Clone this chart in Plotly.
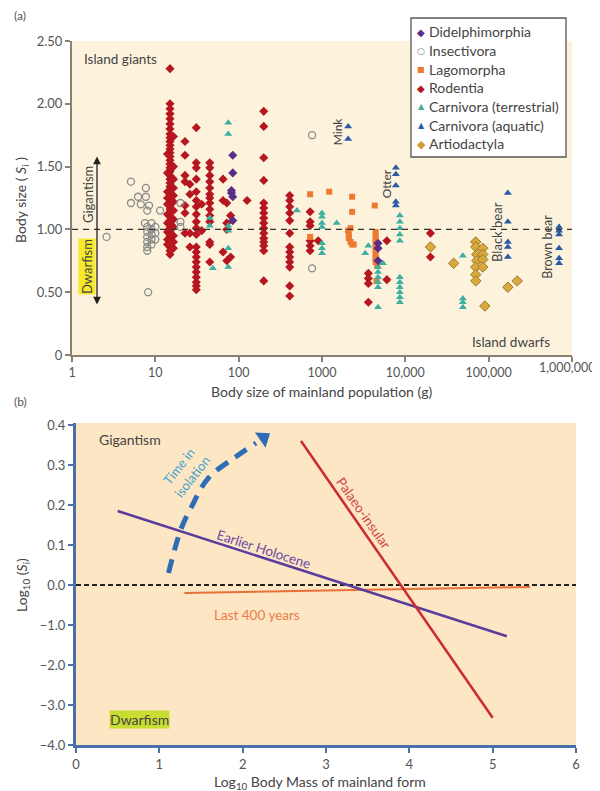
import plotly.graph_objects as go

# ---------------- Panel (a) data: (mainland mass g, S_i) ----------------
didelphimorphia_x = [85, 85, 82, 85, 82, 85, 4700, 4700, 4700]
didelphimorphia_y = [1.59, 1.45, 1.31, 1.26, 1.29, 1.07, 0.89, 0.85, 0.75]

insectivora_x = [2.6, 5.1, 5.1, 6.2, 6.7, 7.7, 7.7, 8.4, 8.0, 11.4, 7.5, 8.0, 8.0, 8.0, 8.0, 8.0, 8.0,
                 9.0, 9.0, 9.0, 9.0, 9.0, 10.0, 10.0, 10.0, 8.2, 20, 20, 20, 760, 760]
insectivora_y = [0.94, 1.38, 1.21, 1.26, 1.20, 1.33, 1.26, 1.19, 1.15, 1.15, 1.05, 1.02, 0.98, 0.94, 0.90, 0.86, 0.83,
                 1.05, 1.00, 0.96, 0.92, 0.88, 1.02, 0.97, 0.92, 0.50, 1.21, 1.06, 1.02, 1.75, 0.69]

lagomorpha_x = [720, 1220, 2300, 2300, 4300, 2050, 2100, 2100, 2200, 2300, 2400, 2200,
                4400, 4400, 4400, 4400, 4400, 4400, 4400, 4400, 4400, 4600, 4500, 720]
lagomorpha_y = [1.28, 1.30, 1.26, 1.14, 1.19, 0.99, 0.96, 0.93, 0.90, 0.88, 0.88, 1.01,
                0.98, 0.95, 0.92, 0.89, 0.86, 0.83, 0.80, 0.77, 0.74, 0.71, 0.59, 0.94]

rodentia_cols = [
    (15, [2.28, 2.00, 1.96, 1.92, 1.88, 1.84, 1.80, 1.76, 1.73, 1.70, 1.67, 1.64, 1.61, 1.58, 1.55,
          1.52, 1.49, 1.46, 1.43, 1.40, 1.37, 1.34, 1.31, 1.28, 1.25, 1.22, 1.19, 1.16, 1.13, 1.10,
          1.07, 1.04, 1.01, 0.98, 0.95, 0.92, 0.89, 0.86, 0.83, 0.80]),
    (14, [1.60, 1.45, 1.30, 1.25, 1.20, 1.12, 1.05, 0.98, 0.92, 0.88]),
    (16.5, [1.74, 1.50, 1.40, 1.33, 1.27, 1.22, 1.15, 1.08, 1.02, 0.95, 0.90, 0.85]),
    (22.7, [1.70, 1.59, 1.43, 1.38, 1.19, 1.13, 0.97]),
    (26, [1.36, 1.28, 0.97, 0.86]),
    (31, [1.81, 1.53, 1.49, 1.40, 1.30, 1.23, 1.18, 1.12, 1.06, 1.01, 0.96, 0.86, 0.82, 0.78, 0.74,
          0.70, 0.66, 0.62, 0.58, 0.55, 0.52]),
    (36, [0.99, 1.20]),
    (45, [1.53, 1.49, 1.43, 1.38, 1.33, 1.28, 1.25, 1.21, 1.16, 1.11, 1.06, 0.90, 0.88, 0.74]),
    (65, [0.82, 1.23, 1.40]),
    (72, [0.75, 1.21, 1.05, 1.00]),
    (80, [1.11, 0.78]),
    (126, [1.23]),
    (200, [1.94, 1.82, 1.57, 1.39, 1.21, 1.17, 1.13, 1.09, 1.05, 1.01, 0.97, 0.93, 0.90, 0.87, 0.83, 0.59]),
    (410, [1.27, 1.23, 1.18, 1.13, 1.07, 0.97, 0.86, 0.82, 0.78, 0.74, 0.70, 0.55, 0.47]),
    (720, [1.14, 1.06, 1.03, 0.91, 0.87, 0.83]),
    (900, [0.91]),
    (3600, [0.65, 0.61, 0.57, 0.42]),
    (6000, [0.91, 0.60]),
    (20000, [0.97, 0.78]),
]

carn_terr_x = [75, 75, 45, 45, 49, 75, 75, 75, 75, 500, 1000, 1000, 1000, 1000, 1000, 1000, 1000,
               1500, 3600, 3300, 5400, 4700, 4700, 4700, 4700, 4700, 4700,
               8600, 8600, 8600, 8600, 8600, 8600, 8600, 8600, 8600, 8600, 8600,
               49000, 49000, 49000, 49000]
carn_terr_y = [1.85, 1.76, 1.09, 1.03, 0.69, 1.03, 0.99, 0.85, 0.70, 1.15, 1.13, 1.10, 1.05, 1.02, 0.89, 0.85, 0.81,
               1.05, 0.87, 0.81, 0.73, 0.70, 0.66, 0.62, 0.58, 0.54, 0.38,
               1.11, 1.06, 1.01, 0.96, 0.91, 0.62, 0.58, 0.54, 0.50, 0.46, 0.42,
               0.79, 0.45, 0.42, 0.38]

carn_aq_x = [2060, 2060, 7700, 7700, 7700, 7700, 7700,
             170000, 170000, 170000, 170000, 170000,
             700000, 700000, 700000, 700000, 700000, 700000]
carn_aq_y = [1.82, 1.72, 1.49, 1.44, 1.35, 1.22, 1.19,
             1.29, 1.06, 0.90, 0.86, 0.78,
             1.02, 0.99, 0.96, 0.85, 0.77, 0.73]

artio_x = [20000, 38000, 70000, 70000, 72000, 72000, 70000, 70000, 70000,
           85000, 85000, 85000, 85000, 90000, 170000, 220000]
artio_y = [0.86, 0.73, 0.90, 0.86, 0.80, 0.75, 0.70, 0.64, 0.59,
           0.85, 0.80, 0.76, 0.70, 0.39, 0.54, 0.59]

x_ticks_a = [1, 10, 100, 1000, 10000, 100000, 1000000]
x_ticklabels_a = ["1", "10", "100", "1000", "10,000", "100,000", "1,000,000"]
y_ticks_a = [0, 0.5, 1.0, 1.5, 2.0, 2.5]
y_ticklabels_a = ["0", "0.50", "1.00", "1.50", "2.00", "2.50"]

legend_names = ["Didelphimorphia", "Insectivora", "Lagomorpha", "Rodentia",
                "Carnivora (terrestrial)", "Carnivora (aquatic)", "Artiodactyla"]

# ---------------- Panel (b) data ----------------
holocene_x = [0.5, 5.17]
holocene_y = [0.185, -1.28]
palaeo_x = [2.7, 5.0]
palaeo_y = [0.36, -3.32]
last400_x = [1.3, 5.45]
last400_y = [-0.2, -0.05]
time_x = [1.11, 1.26, 1.38, 1.59, 1.90, 2.16]
time_y = [0.03, 0.14, 0.193, 0.268, 0.318, 0.355]
time_tip = (2.25, 0.368)
y_ticks_b = [0.4, 0.3, 0.2, 0.1, 0.0, -1.0, -2.0, -3.0, -4.0]
y_ticklabels_b = ["0.4", "0.3", "0.2", "0.1", "0.0", "\u22121.0", "\u22122.0", "\u22123.0", "\u22124.0"]
x_ticks_b = [0, 1, 2, 3, 4, 5, 6]


def tb(v):
    """Broken-scale axis of panel (b): 0.1 steps above zero, 1.0 steps below."""
    return v * 10 if v >= 0 else v


OFF = 8  # page body margin of the rendered html


def px(x):
    return (x - OFF) / 600


def py(y):
    return 1 - (y - OFF) / 791


FONT = "Lato, 'Open Sans', sans-serif"
W, H = 600, 791

styles = {
    "Didelphimorphia": ("\u25C6", "#5b2d86", 10, dict(symbol="diamond", size=7, color="#5b2d86")),
    "Insectivora": ("\u25CB", "#777777", 9, dict(symbol="circle-open", size=7, color="#8a8a8a", line=dict(width=1.3))),
    "Lagomorpha": ("\u25A0", "#ee7a32", 8, dict(symbol="square", size=6, color="#ee7a32")),
    "Rodentia": ("\u25C6", "#b5161f", 10, dict(symbol="diamond", size=7, color="#b5161f")),
    "Carnivora (terrestrial)": ("\u25B2", "#3db0a0", 8, dict(symbol="triangle-up", size=7, color="#3db0a0")),
    "Carnivora (aquatic)": ("\u25B2", "#2a5aa5", 8, dict(symbol="triangle-up", size=7, color="#2a5aa5")),
    "Artiodactyla": ("\u25C6", "#d29e32", 11, dict(symbol="diamond", size=8, color="#d9a83e",
                                                    line=dict(color="#9c7a26", width=1))),
}

fig = go.Figure()

rod_x = [c for c, ys in rodentia_cols for _ in ys]
rod_y = [v for c, ys in rodentia_cols for v in ys]

series = [("Rodentia", rod_x, rod_y), ("Insectivora", insectivora_x, insectivora_y),
          ("Lagomorpha", lagomorpha_x, lagomorpha_y), ("Carnivora (terrestrial)", carn_terr_x, carn_terr_y),
          ("Carnivora (aquatic)", carn_aq_x, carn_aq_y), ("Artiodactyla", artio_x, artio_y),
          ("Didelphimorphia", didelphimorphia_x, didelphimorphia_y)]
for name, xs, ys in series:
    fig.add_trace(go.Scatter(x=xs, y=ys, mode="markers", name=name, showlegend=False,
                             marker=styles[name][3], xaxis="x", yaxis="y"))

fig.add_trace(go.Scatter(x=[1, 1000000], y=[1, 1], mode="lines", showlegend=False, hoverinfo="skip",
                         line=dict(color="#333333", width=1.3, dash="6px,5px"), xaxis="x", yaxis="y"))

# ---------------- Panel (b) traces ----------------
fig.add_trace(go.Scatter(x=[0, 6], y=[tb(0), tb(0)], mode="lines", showlegend=False, hoverinfo="skip",
                         line=dict(color="#222222", width=2, dash="5px,3px"), xaxis="x2", yaxis="y2"))
fig.add_trace(go.Scatter(x=last400_x, y=[tb(v) for v in last400_y], mode="lines", showlegend=False,
                         line=dict(color="#e8703a", width=2), xaxis="x2", yaxis="y2"))
fig.add_trace(go.Scatter(x=holocene_x, y=[tb(v) for v in holocene_y], mode="lines", showlegend=False,
                         line=dict(color="#5a3c9c", width=2.5), xaxis="x2", yaxis="y2"))
fig.add_trace(go.Scatter(x=palaeo_x, y=[tb(v) for v in palaeo_y], mode="lines", showlegend=False,
                         line=dict(color="#cc2b2e", width=2.5), xaxis="x2", yaxis="y2"))
fig.add_trace(go.Scatter(x=time_x, y=[tb(v) for v in time_y], mode="lines", showlegend=False,
                         line=dict(color="#2f6cb6", width=5, dash="14px,9px", shape="spline"),
                         xaxis="x2", yaxis="y2"))
fig.add_trace(go.Scatter(x=[time_tip[0]], y=[tb(time_tip[1])], mode="markers", showlegend=False,
                         marker=dict(symbol="triangle-up", size=16, color="#2f6cb6", angle=55),
                         xaxis="x2", yaxis="y2"))

axis_a = dict(color="#555555", linecolor="#8c8070", linewidth=2, ticks="outside", ticklen=5,
              tickcolor="#8c8070", tickwidth=1.5, showgrid=False, zeroline=False, showline=True,
              automargin=False, tickfont=dict(family=FONT, size=13, color="#555555"))
axis_b = dict(color="#555555", linecolor="#4a70aa", linewidth=3, ticks="outside", ticklen=5,
              tickcolor="#4a70aa", tickwidth=1.5, showgrid=False, zeroline=False, showline=True,
              automargin=False, tickfont=dict(family=FONT, size=13, color="#555555"))

# the last x tick label of panel (a) would run past the page edge; it is drawn as an annotation instead
shown_ticktext_a = x_ticklabels_a[:-1] + [""]

fig.update_layout(
    width=W, height=H, autosize=False,
    margin=dict(l=0, r=0, t=0, b=0, pad=0, autoexpand=False),
    paper_bgcolor="white", plot_bgcolor="white",
    font=dict(family=FONT, size=12, color="#444444"),
    xaxis=dict(axis_a, type="log", range=[0, 6], domain=[px(72), px(572)], anchor="y",
               tickvals=x_ticks_a, ticktext=shown_ticktext_a,
               tickfont=dict(family=FONT, size=12.5, color="#555555")),
    yaxis=dict(axis_a, range=[0, 2.5], domain=[py(355), py(41)], anchor="x",
               tickvals=y_ticks_a, ticktext=y_ticklabels_a),
    xaxis2=dict(axis_b, range=[0, 6], domain=[px(76), px(576)], anchor="y2",
                tickvals=x_ticks_b),
    yaxis2=dict(axis_b, range=[-4, 4.05], domain=[py(745), py(423)], anchor="x2",
                tickvals=[tb(v) for v in y_ticks_b], ticktext=y_ticklabels_b),
    showlegend=False,
)

fig.add_shape(type="rect", xref="x domain", yref="y domain", x0=0, x1=1, y0=0, y1=1,
              fillcolor="#fdf3dd", line_width=0, layer="below")
fig.add_shape(type="rect", xref="x2 domain", yref="y2 domain", x0=0, x1=1, y0=0, y1=1,
              fillcolor="#fde6c3", line_width=0, layer="below")
# legend box
fig.add_shape(type="rect", xref="paper", yref="paper", x0=px(411), x1=px(566), y0=py(157), y1=py(18),
              fillcolor="white", line=dict(color="#555555", width=1.3), layer="above")

ann = []


def txt(x, y, s, **kw):
    d = dict(x=x, y=y, text=s, showarrow=False, xref="paper", yref="paper",
             xanchor="center", yanchor="middle",
             font=dict(family=kw.pop("family", FONT), size=kw.pop("size", 12), color=kw.pop("color", "#444444")))
    d.update(kw)
    ann.append(d)


for i, name in enumerate(legend_names):
    yy = 32 + i * 18.6
    glyph, gcol, gsize, _ = styles[name]
    txt(px(421), py(yy + 0.5), glyph, size=gsize, color=gcol, family="DejaVu Sans")
    txt(px(427), py(yy), name, size=14, color="#444444", xanchor="left")

txt(px(597), py(367), x_ticklabels_a[-1], size=12.5, color="#555555", xanchor="right")
txt(px(20), py(15), "(a)", size=12, color="#555555")
txt(px(20), py(401), "(b)", size=12, color="#555555")
txt(px(322), py(392), "Body size of mainland population (g)", size=14)
txt(px(22), py(200), "Body size ( <i>S</i><sub>i</sub> )", size=14, textangle=-90)
txt(px(320), py(782), "Log<sub>10</sub> Body Mass of mainland form", size=14)
txt(px(22), py(585), "Log<sub>10</sub> (<i>S</i><sub>i</sub>)", size=14, textangle=-90)


def dtxt(x, y, s, xr="x", yr="y", **kw):
    d = dict(x=x, y=y, text=s, showarrow=False, xref=xr, yref=yr,
             font=dict(family=FONT, size=kw.pop("size", 12), color=kw.pop("color", "#444444")))
    d.update(kw)
    ann.append(d)


dtxt(0.12, 2.36, "Island giants", size=13.5, xanchor="left")
dtxt(5.27, 0.10, "Island dwarfs", size=13.5)
dtxt(3.19, 1.78, "Mink", textangle=-90)
dtxt(3.77, 1.36, "Otter", textangle=-90)
dtxt(5.10, 0.98, "Black bear", size=13, textangle=-90)
dtxt(5.71, 0.86, "Brown bear", size=12.5, textangle=-90)
dtxt(0.19, 1.28, "Gigantism", size=13, textangle=-90)
dtxt(0.18, 0.70, "Dwarfism", size=13, textangle=-90, bgcolor="#f6ea2a", borderpad=0)
ann.append(dict(x=0.3, y=1.58, ax=0.3, ay=0.39, xref="x", yref="y", axref="x", ayref="y",
                showarrow=True, arrowhead=2, arrowside="end+start", arrowsize=1.2, arrowwidth=1.3,
                arrowcolor="#222222", text=""))

dtxt(0.65, tb(0.363), "Gigantism", xr="x2", yr="y2", size=14, color="#444444")
dtxt(0.76, tb(-3.35), "Dwarfism", xr="x2", yr="y2", size=14, color="#444444", bgcolor="#c8dc32",
     borderpad=0)
dtxt(2.25, tb(0.09), "Earlier Holocene", xr="x2", yr="y2", size=13.5, color="#6a4ca4", textangle=18)
dtxt(3.45, tb(0.18), "Palaeo-insular", xr="x2", yr="y2", size=13.5, color="#d0494a", textangle=55)
dtxt(2.17, tb(-0.75), "Last 400 years", xr="x2", yr="y2", size=13.5, color="#ec7c4a")
dtxt(1.31, tb(0.285), "Time in<br>isolation", xr="x2", yr="y2", size=13, color="#4aa3cc", textangle=-52)

fig.update_layout(annotations=ann)

fig.write_html("out.html")
